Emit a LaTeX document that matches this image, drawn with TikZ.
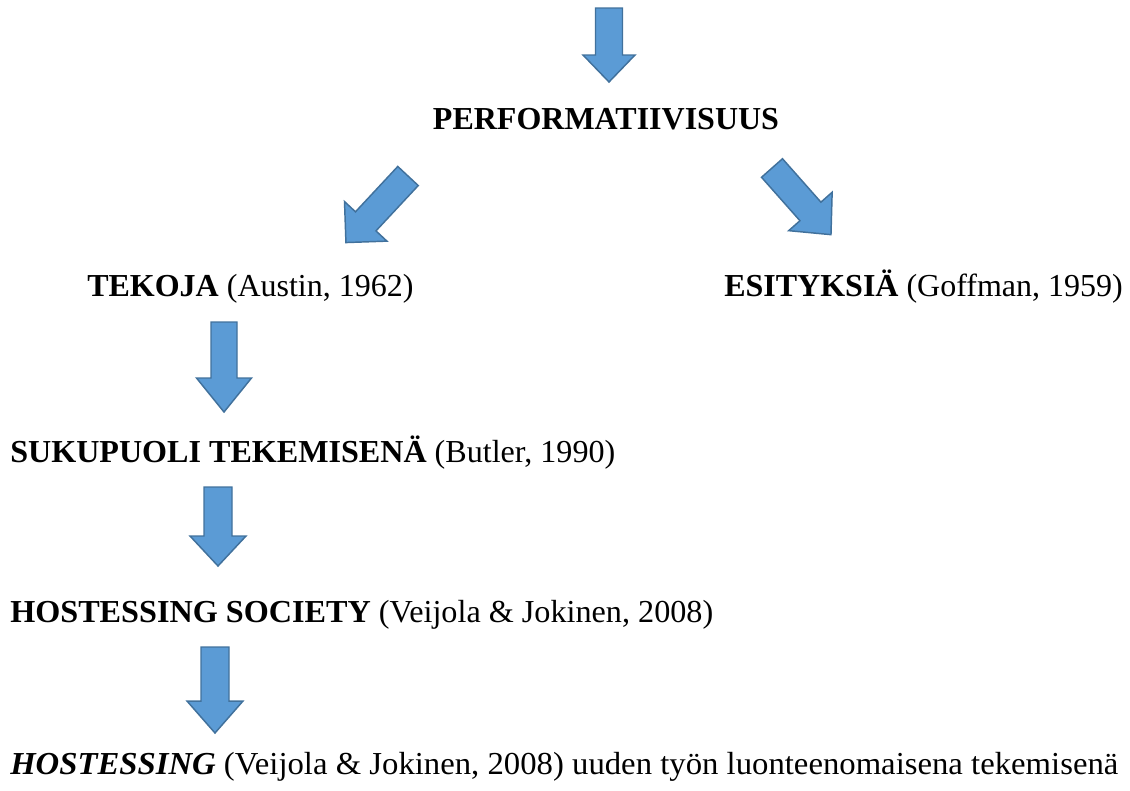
\documentclass[tikz,border=0pt]{standalone}
\usepackage{fontspec}
\usepackage{graphicx}
\setmainfont{Liberation Serif}
\definecolor{arrowfill}{HTML}{5B9BD5}
\definecolor{arrowline}{HTML}{41719C}
\tikzset{
  blockarrow/.style={fill=arrowfill, draw=arrowline, line width=1.1pt, line join=miter},
  lbl/.style={inner sep=0pt, font=\fontsize{24}{28}\selectfont},
}
% #1 back x, #2 back y, #3 angle, #4 total length, #5 shaft width, #6 head width, #7 head length
\newcommand\mkblockarrow[7]{%
  \draw[blockarrow, shift={(#1,#2)}, rotate=#3]
    (0,#5/2) -- ({#4-#7},#5/2) -- ({#4-#7},#6/2) -- (#4,0)
    -- ({#4-#7},-#6/2) -- ({#4-#7},-#5/2) -- (0,-#5/2) -- cycle;}
\begin{document}
\begin{tikzpicture}[x=0.75pt,y=-0.75pt]
\useasboundingbox (0,0) rectangle (1130,790);
% block arrows
\mkblockarrow{609}{8}{-90}{74}{27}{52}{27}
\mkblockarrow{408}{176}{-133}{91}{28}{58}{29}
\mkblockarrow{772}{168}{-48.5}{89}{28}{58}{31}
\mkblockarrow{224}{322}{-90}{90}{26}{55}{34}
\mkblockarrow{218}{487}{-90}{79}{28}{56}{30}
\mkblockarrow{215}{647}{-90}{86}{28}{56}{32}
% texts
\node[lbl, anchor=base] (perf) at (606,129) {\textbf{PERFORMATIIVISUUS}};
\node[lbl, anchor=base west] (tekoja) at (87,296) {\textbf{TEKOJA} (Austin, 1962)};
\node[lbl, anchor=base west] (esit) at (724,296) {\textbf{ESITYKSIÄ} (Goffman, 1959)};
\node[lbl, anchor=base west] (suku) at (10,462) {\resizebox{453.75pt}{\height}{\textbf{SUKUPUOLI TEKEMISENÄ} (Butler, 1990)}};
\node[lbl, anchor=base west] (hostsoc) at (10,622) {\resizebox{527.25pt}{\height}{\textbf{HOSTESSING SOCIETY} (Veijola \& Jokinen, 2008)}};
\node[lbl, anchor=base west] (host) at (10,774) {\resizebox{831pt}{\height}{\textbf{\textit{HOSTESSING}} (Veijola \& Jokinen, 2008) uuden työn luonteenomaisena tekemisenä}};
\end{tikzpicture}
\end{document}
